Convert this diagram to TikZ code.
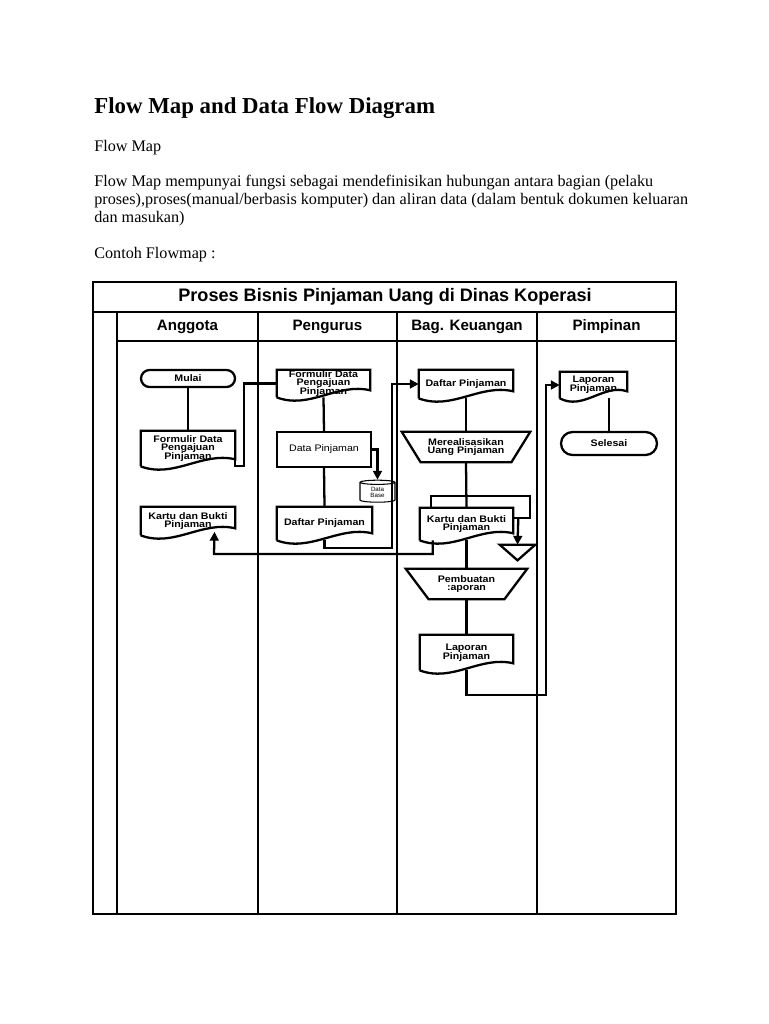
\documentclass[tikz,border=0pt]{standalone}
\usepackage{fontspec}
\setmainfont{Liberation Serif}
\setsansfont{Liberation Sans}
\newfontfamily\diagfont[FakeStretch=1.12]{Liberation Sans}
\usetikzlibrary{arrows.meta, positioning, calc, shapes.geometric}

% dokumen: persegi dengan sisi bawah bergelombang
\newcommand{\dokumen}[1]{%
  \draw[garis] (#1.south west) -- (#1.north west) -- (#1.north east)
    -- ([yshift=0.14cm]#1.south east)
    .. controls ($(#1.south west)!0.65!(#1.south east)+(0,0.30cm)$)
    and ($(#1.south west)!0.35!(#1.south east)+(0,-0.25cm)$) .. (#1.south west);}
% operasi manual: trapesium terbalik
\newcommand{\manual}[2]{%
  \draw[garis] (#1.north west) -- (#1.north east) -- ([xshift=-#2]#1.south east)
    -- ([xshift=#2]#1.south west) -- cycle;}
\newcommand{\rapat}{\lineskiplimit=-10pt\lineskip=0pt}

\begin{document}
\begin{tikzpicture}[x=0.02cm, y=-0.02cm,
  garis/.style={line width=1.3pt},
  panah/.style={garis, -{Triangle[length=5pt,width=5pt]}},
  teks/.style={font=\diagfont\fontsize{5.4}{4.9}\selectfont\bfseries\rapat, align=center, inner sep=0pt},
  dok/.style={teks, rectangle, minimum width=1.88cm},
  proses/.style={teks, rectangle, draw, garis, minimum width=1.88cm, font=\diagfont\fontsize{5.4}{4.9}\selectfont\rapat},
  terminal/.style={teks, draw, garis, minimum width=1.88cm},
  lane/.style={font=\fontsize{8.6}{10}\selectfont\sffamily\bfseries},
  badan/.style={anchor=base west, inner sep=0pt, font=\fontsize{9.2}{11}\selectfont}]
\fill[white] (0,0) rectangle (768,1024);
\useasboundingbox (0,0) rectangle (768,1024);

% teks halaman
\node[badan, font=\fontsize{13}{15}\selectfont\bfseries] (judul) at (94,113) {Flow Map and Data Flow Diagram};
\node[badan] (sub) at (94,152) {Flow Map};
\node[badan] (para1) at (94,186) {Flow Map mempunyai fungsi sebagai mendefinisikan hubungan antara bagian (pelaku};
\node[badan] (para2) at (94,204) {proses),proses(manual/berbasis komputer) dan aliran data (dalam bentuk dokumen keluaran};
\node[badan] (para3) at (94,222) {dan masukan)};
\node[badan] (contoh) at (94,258) {Contoh Flowmap :};

% bingkai dan lajur
\draw[garis] (93,282) rectangle (676,914);
\draw[garis] (93,312) -- (676,312);
\draw[garis] (117,312) -- (117,914);
\draw[garis] (117,341) -- (676,341);
\foreach \x in {258,397,537}
  \draw[garis] (\x,312) -- (\x,914);
\node[lane, font=\fontsize{10.3}{12}\selectfont\sffamily\bfseries] (proses) at (385,297) {Proses Bisnis Pinjaman Uang di Dinas Koperasi};
\node[lane] (anggota) at (187.5,327) {Anggota};
\node[lane] (pengurus) at (327.5,327) {Pengurus};
\node[lane] (keuangan) at (467,327) {Bag. Keuangan};
\node[lane] (pimpinan) at (606.5,327) {Pimpinan};

% Anggota
\node[terminal, minimum height=0.34cm, rounded corners=0.17cm] (mulai) at (188,378.5) {Mulai};
\node[dok, minimum height=0.70cm] (formA) at (188,448.5) {Formulir Data\\Pengajuan\\Pinjaman};
\node[dok, minimum height=0.56cm] (kartuA) at (188,521) {Kartu dan Bukti\\Pinjaman};

% Pengurus
\node[dok, minimum width=1.86cm, minimum height=0.54cm] (formP) at (323.5,383.5) {Formulir Data\\Pengajuan\\Pinjaman};
\node[proses, minimum height=0.70cm] (dataP) at (324,449.5) {Data Pinjaman};
\node[cylinder, draw, line width=0.6pt, shape border rotate=90, aspect=0.3, inner sep=0pt,
  minimum width=0.70cm, minimum height=0.44cm, align=center,
  font=\fontsize{3.5}{3.8}\selectfont\sffamily] (db) at (377.5,492.5) {Data\\Base};
\node[dok, minimum width=1.90cm, minimum height=0.66cm] (daftarP) at (324.5,523.5) {Daftar Pinjaman};

% Bag. Keuangan
\node[dok, minimum height=0.56cm] (daftarK) at (466,384) {Daftar Pinjaman};
\node[teks, minimum width=2.56cm, minimum height=0.60cm] (realisasi) at (466,447) {Merealisasikan\\Uang Pinjaman};
\node[dok, minimum width=1.86cm, minimum height=0.64cm] (kartuK) at (466.5,524) {Kartu dan Bukti\\Pinjaman};
\node[teks, minimum width=0.70cm, minimum height=0.30cm] (arsip) at (517.5,552.5) {};
\node[teks, minimum width=2.42cm, minimum height=0.60cm] (buatLap) at (466.5,584) {Pembuatan\\:aporan};
\node[dok, minimum width=1.86cm, minimum height=0.70cm] (laporanK) at (466.5,652.5) {Laporan\\Pinjaman};

% Pimpinan
\node[dok, minimum width=1.34cm, minimum height=0.52cm] (laporanP) at (593.5,385) {Laporan\\Pinjaman};
\node[terminal, minimum width=1.92cm, minimum height=0.46cm, rounded corners=0.23cm] (selesai) at (609,443.5) {Selesai};

% bentuk
\foreach \d in {formA,kartuA,formP,daftarP,daftarK,kartuK,laporanK,laporanP}
  {\dokumen{\d}}
\manual{realisasi}{0.38cm}
\manual{buatLap}{0.46cm}
\draw[garis] ([xshift=0.22cm]kartuK.north west) -- ++(0,0.24cm)
  -| ([xshift=0.34cm,yshift=-0.20cm]kartuK.north east) -- ([yshift=-0.20cm]kartuK.north east);
\draw[garis] (arsip.north west) -- (arsip.north east) -- (arsip.south) -- cycle;

% alur
\coordinate (b2) at (392,548);
\coordinate (b3) at (214,554);
\coordinate (b4) at (546,695);
\coordinate (masukKartu) at ($(kartuA.south west)!0.78!(kartuA.south east)+(0,0.07cm)$);
\draw[garis] (mulai.south) -- (formA.north);
\draw[garis] ([yshift=0.14cm]formA.south east) -- (formA.south east) -- ++(0.18cm,0) |- (formP.west);
\draw[garis] (formP.south) -- (dataP.north);
\draw[garis] (dataP.south) -- (daftarP.north);
\draw[panah] (dataP.east) -| (db.north);
\draw[panah] (daftarP.south) |- (b2) |- (daftarK.west);
\draw[garis] (daftarK.south) -- (realisasi.north);
\draw[garis] (realisasi.south) -- (kartuK.north);
\draw[garis] (kartuK.south) -- (buatLap.north);
\draw[garis] (buatLap.south) -- (laporanK.north);
\draw[panah] ([xshift=0.1cm,yshift=-0.2cm]kartuK.north east) -- (arsip.north);
\draw[panah] ([xshift=0.26cm]kartuK.south west) |- (b3) -- (masukKartu);
\draw[panah] (laporanK.south) |- (b4) |- (laporanP.west);
\draw[garis] (selesai.north) -- (selesai.north |- laporanP.south);
\end{tikzpicture}
\end{document}
